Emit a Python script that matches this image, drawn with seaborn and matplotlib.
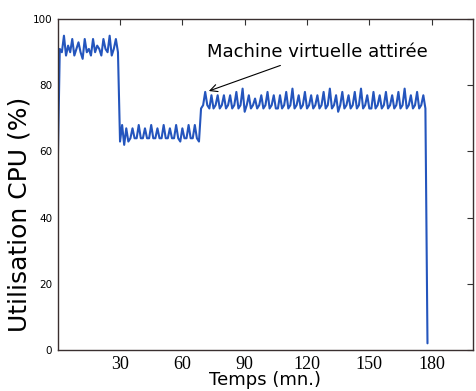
import numpy as np
import pandas as pd
import matplotlib
matplotlib.use("Agg")
import matplotlib.pyplot as plt
import seaborn as sns

sns.set_style("white")
plt.rcParams["text.color"] = "black"
plt.rcParams["axes.labelcolor"] = "black"
plt.rcParams["xtick.color"] = "black"
plt.rcParams["ytick.color"] = "black"

# CPU usage per minute, one list per phase
phase_start = [55]
phase_high = [91, 90, 95, 89, 92, 90, 94, 89, 91, 93, 90, 88, 94, 90, 91,
              89, 94, 90, 92, 91, 89, 94, 91, 90, 95, 89, 91, 94, 90]
phase_low = [63, 68, 62, 67, 63, 64, 67, 64, 64, 68, 64, 64, 67, 64, 64,
             68, 64, 64, 67, 64, 64, 68, 64, 64, 67, 64, 64, 68, 64, 63,
             67, 64, 64, 68, 64, 64, 68, 64, 63]
phase_vm = [73, 74, 78, 74, 73, 77, 73, 74, 77, 73,
            74, 77, 73, 74, 77, 73, 74, 78, 73, 74,
            79, 72, 74, 77, 73, 74, 76, 73, 74, 77,
            73, 74, 78, 73, 74, 77, 73, 73, 77, 73,
            74, 78, 73, 74, 79, 73, 74, 77, 73, 74,
            78, 73, 74, 77, 73, 74, 77, 73, 74, 78,
            73, 74, 79, 73, 74, 77, 72, 74, 78, 73,
            74, 77, 73, 74, 78, 73, 74, 79, 73, 74,
            77, 73, 73, 78, 73, 74, 77, 73, 74, 78,
            73, 74, 77, 73, 74, 78, 73, 74, 79, 73,
            74, 77, 73, 74, 78, 73, 74, 77, 73]
phase_end = [2]

cpu = phase_start + phase_high + phase_low + phase_vm + phase_end
df = pd.DataFrame({"temps": np.arange(len(cpu)), "cpu": cpu})

x_ticks = [30, 60, 90, 120, 150, 180]
y_ticks = [0, 20, 40, 60, 80, 100]

fig = plt.figure(figsize=(4.77, 3.91), dpi=100)
ax = fig.add_axes([0.121, 0.105, 0.871, 0.846])

sns.lineplot(data=df, x="temps", y="cpu", ax=ax, color="#2455bd", linewidth=1.5)

ax.set_xlim(0, 200)
ax.set_ylim(0, 100)
ax.set_xticks(x_ticks)
ax.set_yticks(y_ticks)
ax.set_xticklabels([str(t) for t in x_ticks], family="Liberation Serif", fontsize=13)
ax.tick_params(axis="y", labelsize=7.5)
ax.tick_params(direction="in", top=True, right=True, length=4, width=0.8,
               color="#333333", pad=4)
for s in ax.spines.values():
    s.set_color("#3a2f2f")
    s.set_linewidth(1.0)

ax.set_xlabel("Temps (mn.)", fontsize=13, labelpad=-1)
ax.set_ylabel("Utilisation CPU (%)", fontsize=18)
ax.yaxis.set_label_coords(-0.062, 0.41)

ax.annotate("Machine virtuelle attirée", xy=(71.5, 78), xytext=(125, 90),
            fontsize=13, ha="center", va="center",
            arrowprops=dict(arrowstyle="->", color="black", lw=0.8))

fig.savefig("out.png", dpi=100)
